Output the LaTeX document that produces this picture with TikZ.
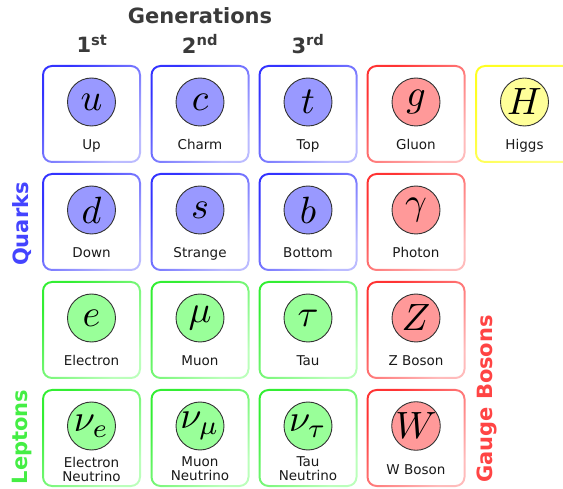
\documentclass[tikz,border=0pt]{standalone}
\usepackage{fontspec}
\setmainfont{DejaVu Sans}
\usepackage{graphicx}
\definecolor{qA}{HTML}{3333FF}\definecolor{qB}{HTML}{BBBBFF}\definecolor{qF}{HTML}{9999FF}
\definecolor{lA}{HTML}{33EE33}\definecolor{lB}{HTML}{BBFFBB}\definecolor{lF}{HTML}{99FF99}
\definecolor{gA}{HTML}{FF3333}\definecolor{gB}{HTML}{FFBBBB}\definecolor{gF}{HTML}{FF9999}
\definecolor{hA}{HTML}{FFFF22}\definecolor{hB}{HTML}{FFFF88}\definecolor{hF}{HTML}{FFFF99}
\definecolor{headgray}{HTML}{3A3A3A}
\definecolor{quarkblue}{HTML}{4444FF}
\definecolor{leptongreen}{HTML}{44EE44}
\definecolor{bosonred}{HTML}{FF4444}
\tikzset{
  ptc/.style={circle, minimum size=48pt, inner sep=0pt, draw=black!80, line width=0.9pt},
  lbl/.style={inner sep=0pt, text=black!90, font=\fontsize{13.5}{14}\selectfont, align=center},
  head/.style={inner sep=0pt, font=\fontsize{21}{25}\selectfont\bfseries},
}
% #1 name, #2 x centre, #3 y top, #4 family, #5 symbol, #6 label options, #7 label
\newcommand\particle[7]{%
  \shade[top color=#4A, bottom color=#4B, shading angle=45, even odd rule]
    [rounded corners=10pt] (#2-49.5,#3-1) rectangle (#2+49.5,#3+97)
    [rounded corners=8pt] (#2-47.5,#3+1) rectangle (#2+47.5,#3+95);
  \node[ptc, fill=#4F] (#1) at (#2,#3+36) {\scalebox{3.8}{$#5$}};
  \node[lbl, #6] (#1-l) at (#2,#3+84) {#7};
}
\begin{document}
\begin{tikzpicture}[x=1pt,y=-1pt]
\useasboundingbox (0,0) rectangle (563,489);
% headings
\node[head, text=headgray] (gen) at (200,16) {Generations};
\node[head, text=headgray] (g1) at (92,44) {1\textsuperscript{st}};
\node[head, text=headgray] (g2) at (200,44) {2\textsuperscript{nd}};
\node[head, text=headgray] (g3) at (308,44) {3\textsuperscript{rd}};
\node[head, text=quarkblue, rotate=90] (quarks) at (22,224) {Quarks};
\node[head, text=leptongreen, rotate=90] (leptons) at (22,437) {Leptons};
\node[head, text=bosonred, rotate=90] (bosons) at (487,399) {Gauge Bosons};
% row 1
\particle{u}{91.5}{66}{q}{u}{anchor=base}{Up}
\particle{c}{200}{66}{q}{c}{anchor=base}{Charm}
\particle{t}{308}{66}{q}{t}{anchor=base}{Top}
\particle{g}{416}{66}{g}{g}{anchor=base}{Gluon}
\particle{H}{524.5}{66}{h}{H}{anchor=base}{Higgs}
% row 2
\particle{d}{91.5}{174}{q}{d}{anchor=base}{Down}
\particle{s}{200}{174}{q}{s}{anchor=base}{Strange}
\particle{b}{308}{174}{q}{b}{anchor=base}{Bottom}
\particle{gamma}{416}{174}{g}{\gamma}{anchor=base}{Photon}
% row 3
\particle{e}{91.5}{282}{l}{e}{anchor=base}{Electron}
\particle{mu}{200}{282}{l}{\mu}{anchor=base}{Muon}
\particle{tau}{308}{282}{l}{\tau}{anchor=base}{Tau}
\particle{Z}{416}{282}{g}{Z}{anchor=base}{Z Boson}
% row 4
\particle{nue}{91.5}{390}{l}{\nu_e}{anchor=center, yshift=5pt}{Electron\\Neutrino}
\particle{numu}{200}{390}{l}{\nu_\mu}{anchor=center, yshift=5pt}{Muon\\Neutrino}
\particle{nutau}{308}{390}{l}{\nu_\tau}{anchor=center, yshift=5pt}{Tau\\Neutrino}
\particle{W}{416}{390}{g}{W}{anchor=base}{W Boson}
\end{tikzpicture}
\end{document}
